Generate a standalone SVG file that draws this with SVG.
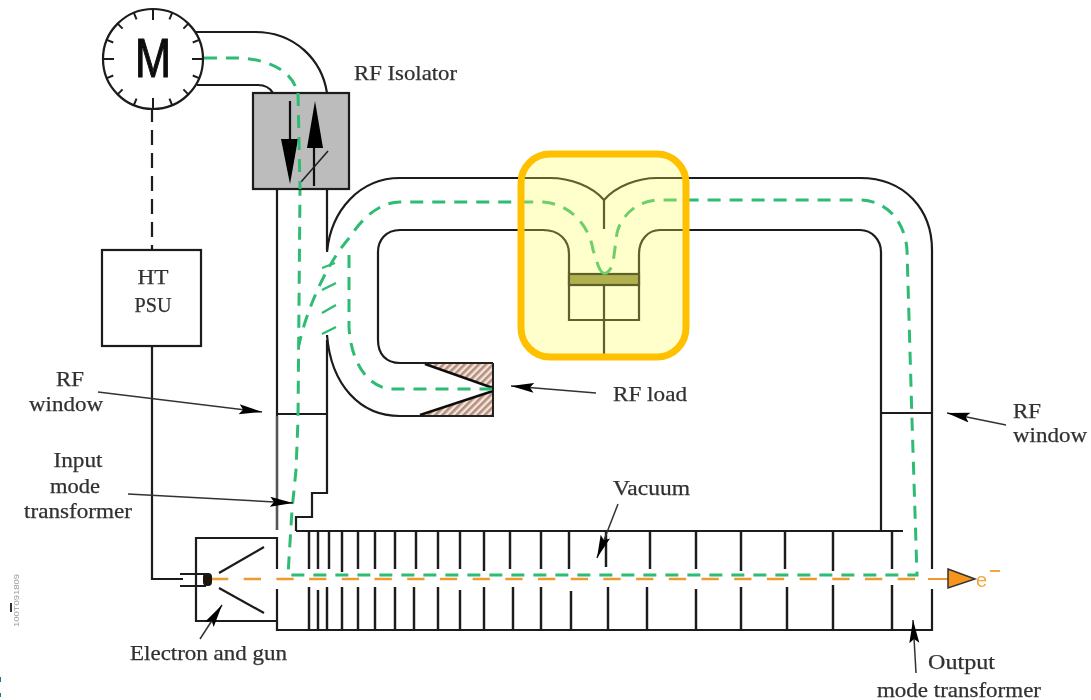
<svg xmlns="http://www.w3.org/2000/svg" width="1091" height="700" viewBox="0 0 1091 700">
<defs>
<filter id="soft" x="-2%" y="-2%" width="104%" height="104%"><feGaussianBlur stdDeviation="0.5"/></filter>
<pattern id="hatch" width="5" height="5" patternUnits="userSpaceOnUse" patternTransform="rotate(-45)"><rect width="5" height="5" fill="#f3e6de"/><rect width="5" height="2.6" fill="#b58f7c"/></pattern>
<marker id="ah" markerUnits="userSpaceOnUse" markerWidth="24" markerHeight="12" refX="23" refY="5" orient="auto"><path d="M0 0L23 5L0 10L4 5Z" fill="#000"/></marker>
</defs>
<style>
.w{fill:none;stroke:#1a1a1a;stroke-width:2.2}
.t{fill:none;stroke:#1a1a1a;stroke-width:2.4}
.g{fill:none;stroke:#2fbb73;stroke-width:3;stroke-dasharray:13 9}
.a{fill:none;stroke:#333;stroke-width:1.5;marker-end:url(#ah)}
text{font-family:"Liberation Serif","DejaVu Serif",serif;font-size:21px;fill:#303030;stroke:#303030;stroke-width:.25}
.c{text-anchor:middle}
</style>
<rect width="1091" height="700" fill="#fff"/>
<g filter="url(#soft)">
<g id="connectors">
<path class="w" d="M195 32H255C295 32 322 60 327 93M197 85H258C265 85 270 88 273 93"/>
<path class="w" d="M277 189V416M327 189V250M327 340V493H312V517H296V531"/>
<path class="w" d="M277 414H327"/>
<path d="M277 416V530" fill="none" stroke="#555" stroke-width="2.6"/>
<path class="w" d="M327 252C331 210 360 178 400 178H550C570 178 592 186 604 200C616 186 638 178 657 178H860C905 178 932 210 932 250V569M932 589V630H277V589M277 569V538H196V621H277"/>
<path class="w" d="M604 200V229"/>
<path class="w" d="M327 335C331 385 360 416 400 416H420M400 230H543C559 230 569 240 569 254V320H639V254C639 240 648 230 660 230H860C872 230 881 240 881 252V531M400 230C386 230 378 240 378 252V340C378 354 386 363 400 363H430"/>
<path class="w" d="M296 531H903M881 413H932"/>
<rect x="569" y="274" width="70" height="11" fill="#8f8f4e" stroke="#1a1a1a" stroke-width="2.2"/>
<path class="w" d="M604 285V354"/>
<path d="M420 363H493V388ZM418 416L493 392V416Z" fill="url(#hatch)"/>
<path d="M493 363V416H418M420 363H493" fill="none" stroke="#222" stroke-width="2"/>
<path d="M425 364L493 388M420 415L493 391" fill="none" stroke="#111" stroke-width="2.4"/>
<path class="t" d="M309 531V569M318 531V569M329 531V569M342 531V572M358 531V569M375 531V569M395 531V569M416 531V569M438 531V569M460 531V569M484 531V571M510 531V569M541 531V569M569 531V569M606 531V567M650 531V569M696 531V569M741 531V571M785 531V569M833 531V571M892 531V569"/>
<path class="t" d="M309 587V630M318 590V630M327 587V630M342 587V630M358 587V630M375 587V630M395 587V630M414 587V630M438 587V630M460 590V630M484 587V630M513 587V630M541 587V630M571 591V630M608 587V630M647 587V630M696 589V630M741 587V630M787 587V630M833 585V630M892 585V630"/>
<path d="M152 346V579H183M180 574H206M180 586H206M219 573L264 547M219 588L264 613" fill="none" stroke="#1a1a1a" stroke-width="2.2"/>
<path d="M152 109V250" fill="none" stroke="#1a1a1a" stroke-width="2.2" stroke-dasharray="15 8" stroke-dashoffset="2"/>
<path d="M211 579H928" fill="none" stroke="#ef9a2e" stroke-width="2.4" stroke-dasharray="17.3 15.4"/>
<path d="M928 579H950" fill="none" stroke="#ef9a2e" stroke-width="2"/>
<path d="M948 569L975 579L948 588Z" fill="#f7941d" stroke="#333" stroke-width="1.5"/>
<path class="g" d="M204 58H235C265 58 298 70 298 100L300 190L298 420L296 470L292 510L288 575H917L912 420L907 250C905 220 885 200 860 200H657C632 202 620 220 617 233L613 263C610 272 606 274 603 273"/>
<path class="g" d="M603 273C598 270 597 260 593 250C590 228 572 204 543 202H400C380 202 362 218 350 237C325 265 305 315 299 345"/>
<path class="g" d="M349 255V327C351 365 370 389 393 389H492"/>
<path d="M322 268L335 263M322 290L336 283M322 313L336 305M322 334L336 327" fill="none" stroke="#2fbb73" stroke-width="2.4"/>
<rect x="203" y="573" width="9" height="13" rx="4" fill="#1a1208"/>
</g>
<g id="arrows">
<path class="a" d="M98 392L262 412"/>
<path class="a" d="M128 494L293 503"/>
<path class="a" d="M200 639L222 605"/>
<path class="a" d="M618 504L597 558"/>
<path class="a" d="M596 393L511 386"/>
<path class="a" d="M1006 425L947 413"/>
<path class="a" d="M916 673L913 620"/>
</g>
<g id="motor">
<circle cx="153" cy="59" r="50" fill="#fff" stroke="#1a1a1a" stroke-width="2.2"/>
<g stroke="#1a1a1a" stroke-width="2">
<path d="M153 9V20M153 98V109M103 59H114M192 59H203"/>
<path d="M153 9V16" transform="rotate(22.5 153 59)"/><path d="M153 9V16" transform="rotate(45 153 59)"/><path d="M153 9V16" transform="rotate(67.5 153 59)"/><path d="M153 9V16" transform="rotate(112.5 153 59)"/><path d="M153 9V16" transform="rotate(135 153 59)"/><path d="M153 9V16" transform="rotate(157.5 153 59)"/><path d="M153 9V16" transform="rotate(202.5 153 59)"/><path d="M153 9V16" transform="rotate(225 153 59)"/><path d="M153 9V16" transform="rotate(247.5 153 59)"/><path d="M153 9V16" transform="rotate(292.5 153 59)"/><path d="M153 9V16" transform="rotate(315 153 59)"/><path d="M153 9V16" transform="rotate(337.5 153 59)"/>
</g>
<text x="153" y="77" class="c" style="font-family:'Liberation Sans',sans-serif;font-size:55px;fill:#111;stroke:#111;stroke-width:1.2" textLength="36" lengthAdjust="spacingAndGlyphs">M</text>
</g>
<g id="isolator">
<rect x="253" y="93" width="96" height="96" fill="#bcbcbc" stroke="#1a1a1a" stroke-width="2.2"/>
<path d="M290 101V145M314 186V145" fill="none" stroke="#111" stroke-width="2.2"/>
<path d="M281 139H298L290 184Z" fill="#000"/>
<path d="M307 148H323L315 101Z" fill="#000"/>
<path d="M301 182L328 151" fill="none" stroke="#222" stroke-width="1.6"/>
<path d="M298 93L300 189" fill="none" stroke="#2fbb73" stroke-width="3" stroke-dasharray="13 9"/>
</g>
<g id="psu">
<rect x="102" y="250" width="99" height="96" fill="#fff" stroke="#1a1a1a" stroke-width="2.2"/>
<text x="153" y="284" class="c" textLength="31" lengthAdjust="spacingAndGlyphs">HT</text>
<text x="153" y="312" class="c" textLength="37" lengthAdjust="spacingAndGlyphs">PSU</text>
</g>
<g id="labels">
<text x="354" y="80" textLength="103" lengthAdjust="spacingAndGlyphs">RF Isolator</text>
<text x="70" y="386" class="c" textLength="28" lengthAdjust="spacingAndGlyphs">RF</text>
<text x="66" y="411" class="c" textLength="74" lengthAdjust="spacingAndGlyphs">window</text>
<text x="78" y="467" class="c" textLength="49" lengthAdjust="spacingAndGlyphs">Input</text>
<text x="75" y="493" class="c" textLength="50" lengthAdjust="spacingAndGlyphs">mode</text>
<text x="78" y="518" class="c" textLength="108" lengthAdjust="spacingAndGlyphs">transformer</text>
<text x="130" y="660" textLength="157" lengthAdjust="spacingAndGlyphs">Electron and gun</text>
<text x="613" y="401" textLength="74" lengthAdjust="spacingAndGlyphs">RF load</text>
<text x="613" y="495" textLength="77" lengthAdjust="spacingAndGlyphs">Vacuum</text>
<text x="1013" y="418" textLength="28" lengthAdjust="spacingAndGlyphs">RF</text>
<text x="1013" y="442" textLength="74" lengthAdjust="spacingAndGlyphs">window</text>
<text x="928" y="669" textLength="67" lengthAdjust="spacingAndGlyphs">Output</text>
<text x="877" y="697" textLength="164" lengthAdjust="spacingAndGlyphs">mode transformer</text>
<text x="976" y="587" style="font-family:'Liberation Sans',sans-serif;font-size:20px;fill:#f4a640;stroke:none">e</text>
<path d="M990 571H1000" stroke="#f4a640" stroke-width="2" fill="none"/>
<text transform="translate(19 627) rotate(-90)" style="font-family:'Liberation Sans',sans-serif;font-size:8px;fill:#999;stroke:none" textLength="53" lengthAdjust="spacingAndGlyphs">100T091809</text>
<path d="M11 603V612" stroke="#333" stroke-width="2"/>
</g>
</g>
<g id="highlight">
<rect x="521" y="154" width="165" height="203" rx="29" fill="#ffff55" fill-opacity=".3" stroke="#ffc000" stroke-width="7"/>
</g>
<path d="M0 677V682M0 693V697" stroke="#1c7a8c" stroke-width="2" fill="none"/>
</svg>
